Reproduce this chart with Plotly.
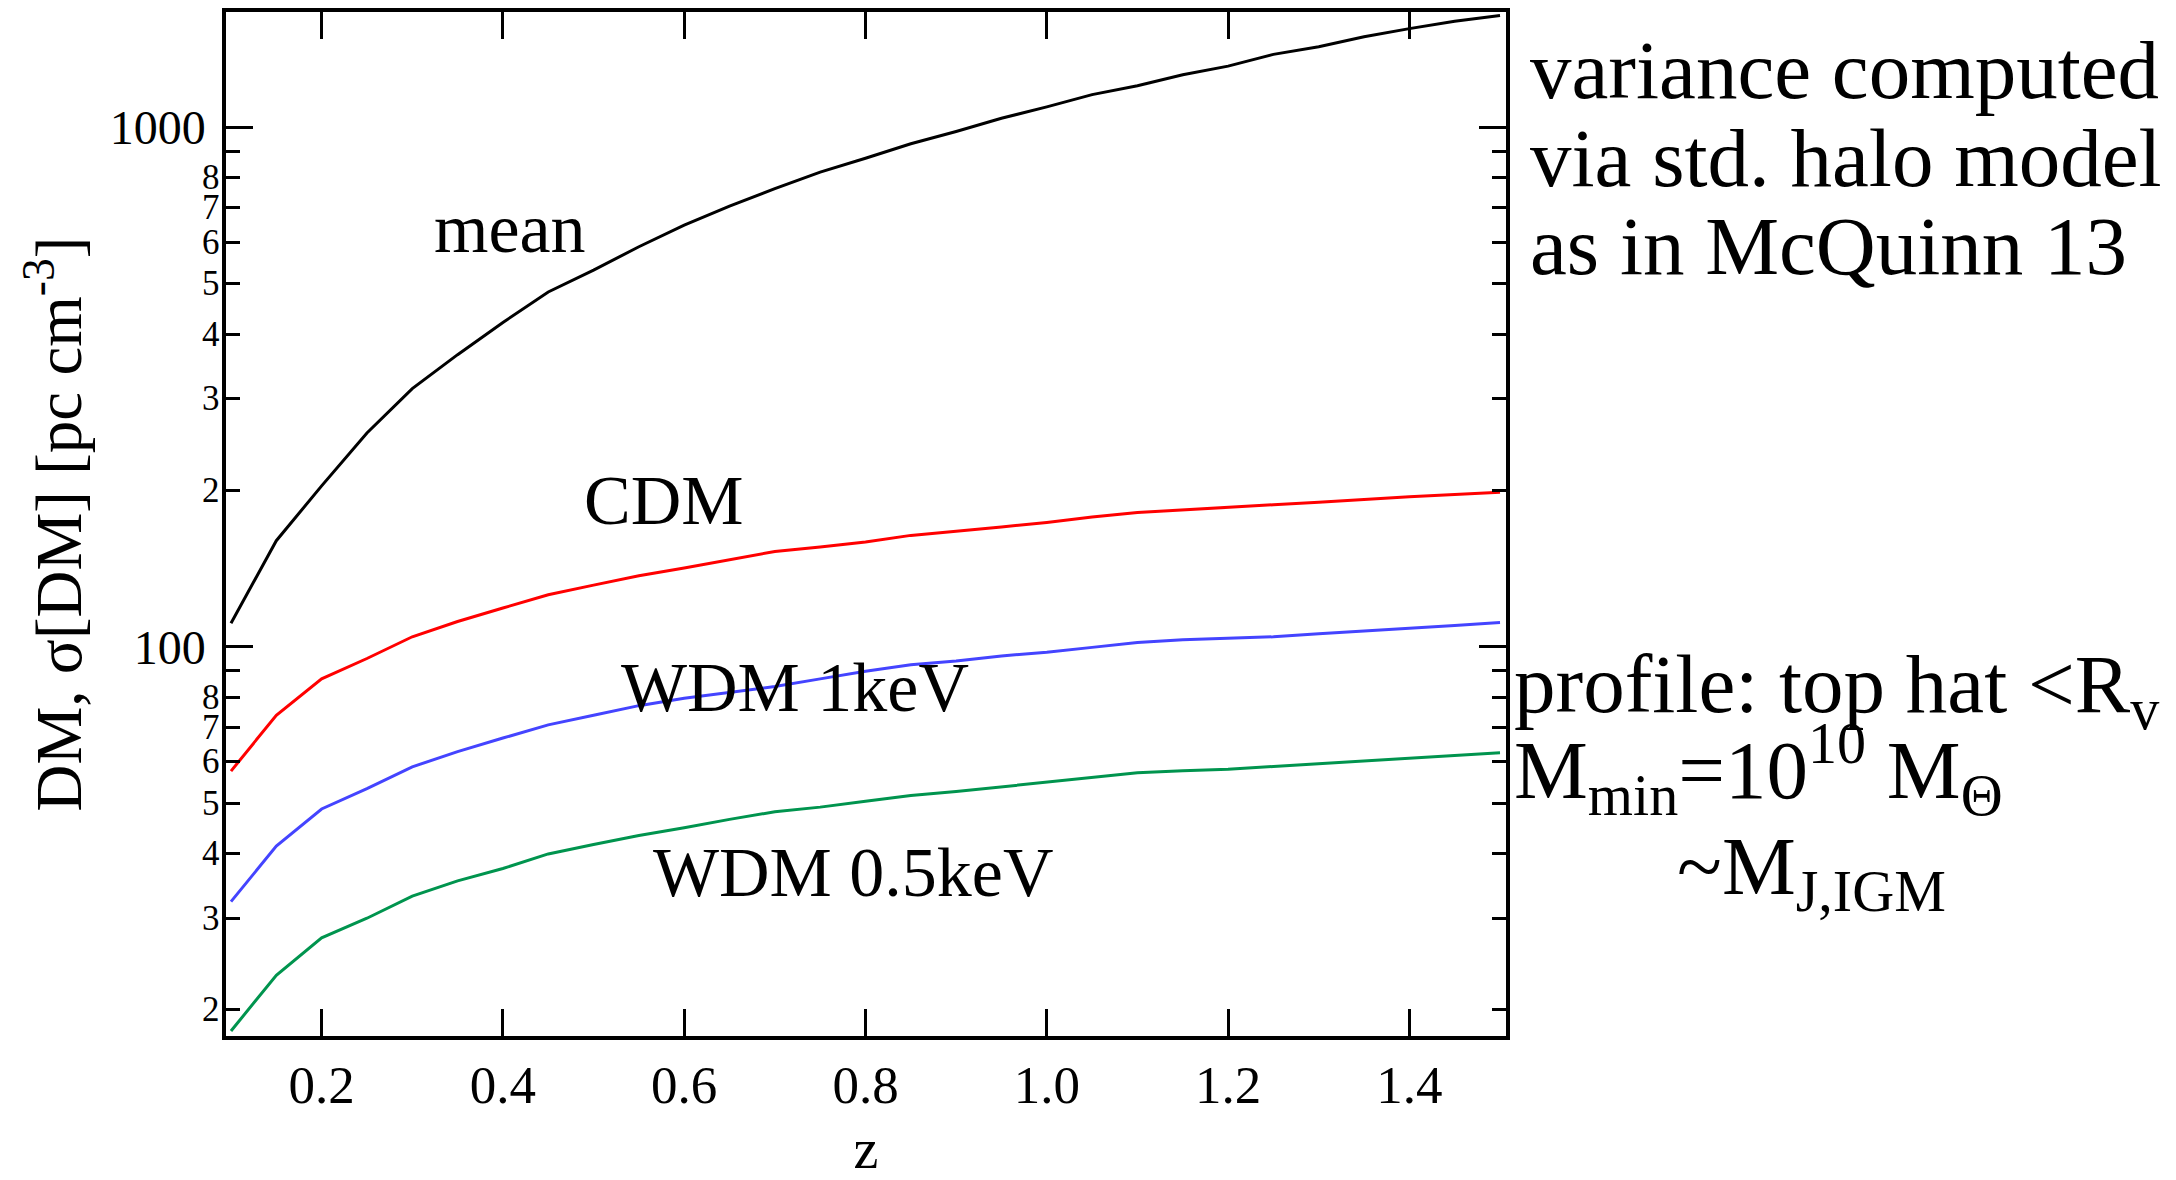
import math
import plotly.graph_objects as go

# Redshift grid
z = [0.10, 0.15, 0.20, 0.25, 0.30, 0.35, 0.40, 0.45, 0.50, 0.55,
     0.60, 0.65, 0.70, 0.75, 0.80, 0.85, 0.90, 0.95, 1.00, 1.05,
     1.10, 1.15, 1.20, 1.25, 1.30, 1.35, 1.40, 1.45, 1.50]

# Mean dispersion measure [pc cm^-3]
dm_mean = [111, 160, 204, 258, 314, 365, 421, 482, 531, 589,
           648, 705, 762, 820, 872, 930, 982, 1041, 1095, 1156,
           1203, 1263, 1312, 1382, 1429, 1494, 1549, 1601, 1642]

# sigma[DM] for the different dark-matter models
sig_cdm = [57.6, 73.8, 86.7, 94.9, 104.5, 111.8, 118.7, 125.9, 131.4, 137.0,
           141.8, 147.2, 152.5, 155.6, 159.1, 163.8, 166.6, 170.0, 173.5, 177.7,
           181.3, 183.2, 185.6, 187.6, 189.8, 192.4, 194.4, 196.4, 198.4]
sig_wdm1 = [32.3, 41.3, 48.7, 53.3, 58.7, 62.8, 66.7, 70.7, 73.8, 77.0,
            79.6, 81.6, 83.8, 86.7, 89.7, 92.3, 93.9, 96.0, 97.6, 99.7,
            101.9, 103.1, 103.8, 104.5, 105.9, 107.1, 108.6, 109.9, 111.3]
sig_wdm05 = [18.2, 23.3, 27.5, 30.0, 33.1, 35.4, 37.4, 39.9, 41.6, 43.3,
             44.8, 46.5, 48.1, 49.1, 50.4, 51.7, 52.6, 53.7, 54.9, 56.0,
             57.2, 57.7, 58.1, 58.8, 59.5, 60.3, 61.0, 61.8, 62.5]

series = [
    ("mean", dm_mean, "#000000"),
    ("CDM", sig_cdm, "#ff0000"),
    ("WDM 1keV", sig_wdm1, "#4444ff"),
    ("WDM 0.5keV", sig_wdm05, "#00944e"),
]

# Axis ticks
x_ticks = [0.2, 0.4, 0.6, 0.8, 1.0, 1.2, 1.4]
y_major = [100, 1000]
y_minor = [20, 30, 40, 50, 60, 70, 80, 90, 200, 300, 400, 500, 600, 700, 800, 900]
y_minor_labeled = [20, 30, 40, 50, 60, 70, 80, 200, 300, 400, 500, 600, 700, 800]
y_minor_text = ["2", "3", "4", "5", "6", "7", "8", "2", "3", "4", "5", "6", "7", "8"]

FONT = "Liberation Serif, Times New Roman, serif"

fig = go.Figure()
for name, vals, color in series:
    fig.add_trace(go.Scatter(x=z, y=vals, mode="lines", name=name,
                             line=dict(color=color, width=3), showlegend=False))

x_range = [0.0945, 1.5066]
y_range = [1.2504, 3.2221]

fig.update_layout(
    width=2176, height=1180,
    margin=dict(l=226, r=670, t=12, b=144, autoexpand=False),
    paper_bgcolor="white", plot_bgcolor="white",
    font=dict(family=FONT, color="black"),
    xaxis=dict(
        range=x_range, tickvals=x_ticks, ticktext=[f"{v:.1f}" for v in x_ticks],
        ticks="inside", ticklen=27, tickwidth=3, tickcolor="black",
        showline=True, linewidth=3.5, linecolor="black", mirror="allticks",
        showgrid=False, zeroline=False, automargin=False,
        tickfont=dict(size=53, family=FONT), ticklabelstandoff=0,
        title=dict(text="z", font=dict(size=56, family=FONT), standoff=44),
    ),
    yaxis=dict(
        type="log", range=y_range, tickvals=y_major, ticktext=["100", "1000"],
        ticks="inside", ticklen=27, tickwidth=3, tickcolor="black",
        minor=dict(tickvals=y_minor, ticks="inside", ticklen=14, tickwidth=3,
                   tickcolor="black", showgrid=False),
        showline=True, linewidth=3.5, linecolor="black", mirror="allticks",
        showgrid=False, zeroline=False, automargin=False,
        tickfont=dict(size=48, family=FONT), ticklabelstandoff=7,
        title=dict(text="DM, σ[DM] [pc cm<sup>-3</sup>]",
                   font=dict(size=65, family=FONT), standoff=8),
    ),
)

# small digit labels on the minor decade ticks
for val, txt in zip(y_minor_labeled, y_minor_text):
    fig.add_annotation(x=0, y=math.log10(val), xref="paper", yref="y", text=txt,
                       showarrow=False, xanchor="right", yanchor="middle",
                       xshift=-4, font=dict(size=35, family=FONT, color="black"))

# curve labels inside the plot (x in z, y in log10 units)
curve_labels = [
    ("mean", 0.4077, 2.8045),
    ("CDM", 0.5766, 2.281),
    ("WDM 1keV", 0.722, 1.921),
    ("WDM 0.5keV", 0.786, 1.565),
]
for text, xv, yv in curve_labels:
    fig.add_annotation(x=xv, y=yv, xref="x", yref="y", text=text, showarrow=False,
                       xanchor="center", yanchor="middle",
                       font=dict(size=70, family=FONT, color="black"))

# notes to the right of the plot
notes = [
    ("variance computed", 1.0168, 0.9434, "left"),
    ("via std. halo model", 1.0168, 0.8575, "left"),
    ("as in McQuinn 13", 1.0168, 0.7715, "left"),
    ("profile: top hat &lt;R<sub>v</sub>", 1.005, 0.338, "left"),
    ("M<sub>min</sub>=10<sup>10</sup> M<sub>Θ</sub>", 1.005, 0.2598, "left"),
    ("~M<sub>J,IGM</sub>", 1.239, 0.160, "center"),
]
for text, xp, yp, anchor in notes:
    fig.add_annotation(x=xp, y=yp, xref="paper", yref="paper", text=text,
                       showarrow=False, xanchor=anchor, yanchor="middle",
                       align=anchor, font=dict(size=83, family=FONT, color="black"))

fig.write_html("out.html")
